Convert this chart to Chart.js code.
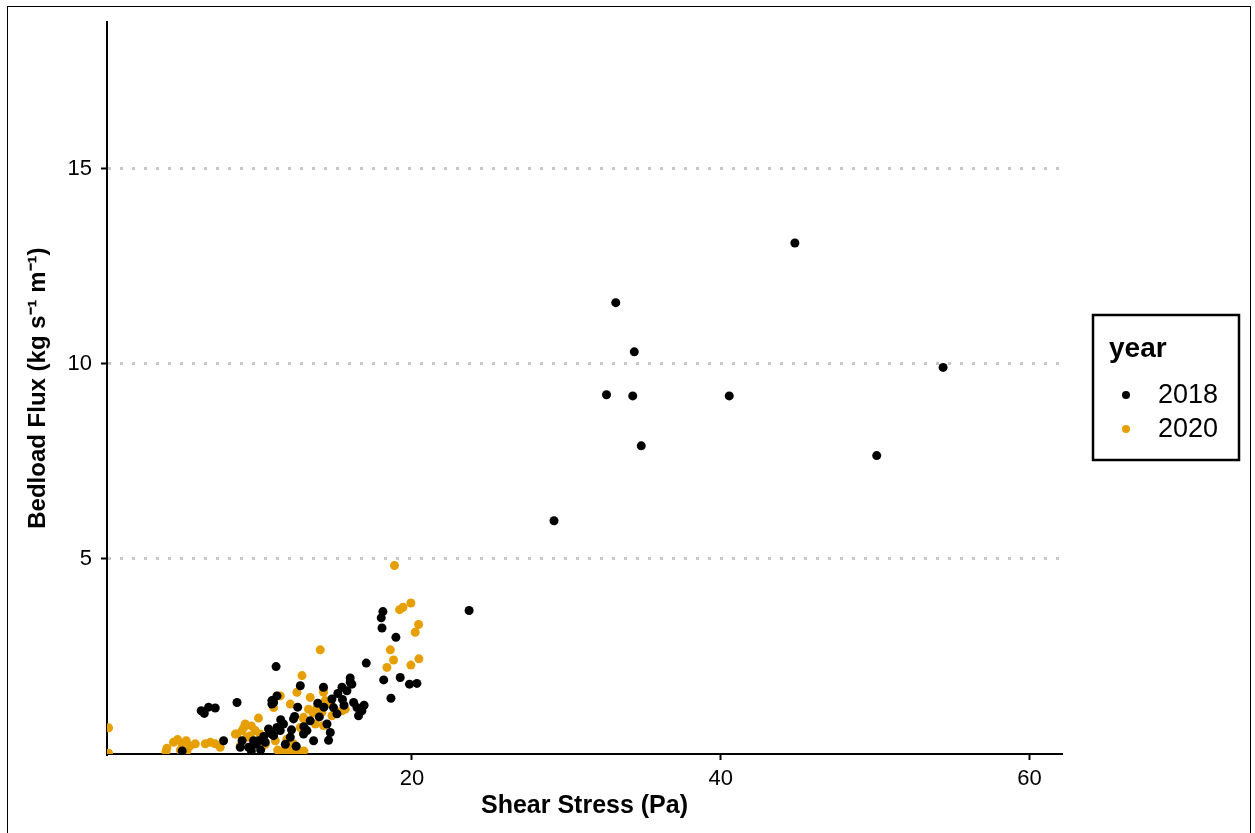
<!DOCTYPE html>
<html>
<head>
<meta charset="utf-8">
<script src="https://cdn.jsdelivr.net/npm/chart.js@4/dist/chart.umd.min.js"></script>
<style>
  html, body { margin: 0; padding: 0; background: #fff; }
  #wrap { width: 1255px; height: 833px; position: relative; }
</style>
</head>
<body>
<div id="wrap"><canvas id="fluxChart"></canvas></div>
<script>
// values
const shear2018 = [
  23.7, 29.2, 32.6, 33.2, 34.4, 34.3, 34.85, 40.55, 44.8, 50.1, 54.4,
  18.12, 18.01, 18.06, 18.96, 17.04, 18.17, 19.24, 19.84, 20.32, 18.64,
  11.2, 16.0, 16.11, 11.04, 11.26, 16.22, 12.33, 12.77, 14.27, 15.47, 16.0, 15.79,
  16.44, 16.76, 16.54, 14.82, 14.92, 15.14, 14.5, 14.71, 13.41, 12.4, 11.68, 11.47,
  11.04, 12.12, 12.98, 13.63, 10.93,
  6.35, 6.55, 6.83, 7.26, 8.67, 7.8, 5.12, 8.88, 9.42, 9.74, 10.06, 10.71, 10.9,
  10.5, 9.53, 9.0, 11.26, 10.93, 9.6, 12.5, 13.2, 14.0, 15.5, 13.9, 12.6, 10.2, 11.8,
  15.2, 15.6, 13.0, 12.2, 10.4, 9.9, 11.5, 14.3, 16.9, 14.6
];
const flux2018 = [
  3.68, 5.98, 9.21, 11.57, 10.31, 9.18, 7.90, 9.18, 13.1, 7.65, 9.91,
  3.65, 3.49, 3.23, 2.99, 2.33, 1.90, 1.96, 1.79, 1.81, 1.43,
  2.24, 1.95, 1.79, 1.32, 1.49, 1.32, 0.9, 1.75, 1.71, 1.71, 1.84, 1.62,
  1.19, 1.11, 0.98, 1.41, 1.19, 1.03, 0.77, 0.55, 0.85, 0.96, 0.77, 0.6,
  0.47, 0.43, 0.51, 0.34, 1.37,
  1.11, 1.04, 1.20, 1.18, 1.32, 0.34, 0.08, 0.17, 0.17, 0.34, 0.34, 0.64, 0.52,
  0.30, 0.17, 0.34, 0.68, 1.28, 0.08, 0.2, 0.6, 0.95, 1.4, 1.3, 1.2, 0.1, 0.25,
  1.55, 1.25, 0.7, 0.62, 0.45, 0.25, 0.88, 1.2, 1.25, 0.35
];
const shear2020 = [
  0.35, 0.35, 4.13, 4.07, 4.82, 4.56, 5.1, 5.38, 5.64, 5.97, 5.0, 5.43, 6.61, 6.94,
  7.26, 7.58, 9.2, 9.1, 8.67, 9.31, 9.85, 10.06, 11.04, 11.26, 11.15, 10.28, 8.88,
  8.56, 9.53, 10.17, 11.47, 12.55, 13.41, 14.27, 14.38, 13.85, 14.17, 12.98, 12.12,
  15.03, 15.47, 12.77, 12.98, 13.74, 14.27, 11.9, 12.12, 12.55, 12.33, 11.8, 14.06,
  12.88, 13.3, 14.27, 14.82, 15.68, 12.98, 18.87, 19.93, 19.42, 19.2, 20.43, 20.21,
  18.6, 18.81, 18.38, 20.45, 19.93, 11.6, 12.0, 12.8,
  9.0, 9.6, 10.5, 11.3, 12.4, 13.0, 13.6, 14.6
];
const flux2020 = [
  0.67, 0.02, 0.15, 0.06, 0.37, 0.30, 0.26, 0.34, 0.21, 0.26, 0.1, 0.08, 0.26, 0.30,
  0.26, 0.17, 0.77, 0.67, 0.51, 0.43, 0.6, 0.92, 1.19, 1.49, 0.34, 0.17, 0.21,
  0.51, 0.47, 0.51, 1.49, 1.58, 1.45, 1.58, 1.37, 1.19, 1.07, 0.94, 1.28,
  1.07, 1.11, 0.68, 0.55, 0.77, 0.73, 0.38, 0.17, 0.13, 0.26, 0.17, 2.67,
  2.01, 1.15, 1.67, 0.98, 1.15, 0.9, 4.83, 3.87, 3.76, 3.7, 3.32, 3.12,
  2.67, 2.41, 2.22, 2.44, 2.28, 0.05, 0.05, 0.05,
  0.6, 0.72, 0.25, 0.1, 0.05, 0.08, 1.05, 1.3
];
const years = ['2018', '2020'];
const yearColors = ['#000000', '#E69F00'];
const xTicks = [20, 40, 60];
const yTicks = [5, 10, 15];

const toPoints = (xs, ys) => xs.map((x, i) => ({ x, y: ys[i] }));

const FONT = 'Liberation Sans, Arial, Helvetica, sans-serif';

// ggplot-style legend box and outer frame
const legendBox = {
  id: 'legendBox',
  afterDraw(chart) {
    const ctx = chart.ctx;
    ctx.save();
    ctx.strokeStyle = '#000';
    ctx.lineWidth = 1;
    ctx.strokeRect(7.5, 6.5, 1243, 840);

    ctx.lineWidth = 2.5;
    ctx.strokeRect(1093, 315, 146, 145);
    ctx.fillStyle = '#000';
    ctx.font = 'bold 28px ' + FONT;
    ctx.textBaseline = 'alphabetic';
    ctx.textAlign = 'left';
    ctx.fillText('year', 1109, 357);
    ctx.font = '27px ' + FONT;
    ctx.textBaseline = 'middle';
    chart.data.datasets.forEach((ds, i) => {
      const y = 395 + i * 34;
      ctx.fillStyle = ds.backgroundColor;
      ctx.beginPath();
      ctx.arc(1126, y, 4, 0, Math.PI * 2);
      ctx.fill();
      ctx.fillStyle = '#000';
      ctx.fillText(ds.label, 1158, y + 1);
    });
    ctx.restore();
  }
};

new Chart(document.getElementById('fluxChart'), {
  type: 'scatter',
  data: {
    datasets: [
      {
        label: years[0],
        data: toPoints(shear2018, flux2018),
        backgroundColor: yearColors[0],
        borderWidth: 0,
        pointRadius: 4.5,
      },
      {
        label: years[1],
        data: toPoints(shear2020, flux2020),
        backgroundColor: yearColors[1],
        borderWidth: 0,
        pointRadius: 4.5,
      },
    ],
  },
  options: {
    responsive: true,
    maintainAspectRatio: false,
    animation: false,
    layout: {
      padding: { left: 0, top: 22, right: 193, bottom: 0 },
    },
    plugins: {
      legend: { display: false },
      tooltip: { enabled: false },
    },
    scales: {
      x: {
        type: 'linear',
        min: 0.25,
        max: 62.1,
        afterBuildTicks: scale => {
          scale.ticks = xTicks.map(value => ({ value }));
        },
        afterFit: scale => {
          scale.height = 79;
        },
        border: { color: '#000', width: 2 },
        grid: {
          drawOnChartArea: false,
          drawTicks: true,
          tickLength: 6,
          tickColor: '#000',
          tickWidth: 2,
        },
        ticks: {
          color: '#000',
          padding: 6,
          maxRotation: 0,
          font: { family: FONT, size: 22 },
        },
        title: {
          display: true,
          text: 'Shear Stress (Pa)',
          color: '#000',
          font: { family: FONT, size: 25, weight: 'bold' },
          padding: { top: 12, bottom: 12 },
        },
      },
      y: {
        type: 'linear',
        min: 0,
        max: 18.76,
        afterBuildTicks: scale => {
          scale.ticks = yTicks.map(value => ({ value }));
        },
        afterFit: scale => {
          scale.width = 107;
        },
        border: { color: '#000', width: 2, dash: [3, 9] },
        grid: {
          color: '#c8c8c8',
          lineWidth: 3,
          drawTicks: true,
          tickLength: 6,
          tickColor: '#000',
          tickWidth: 2,
          tickBorderDash: [],
        },
        ticks: {
          color: '#000',
          padding: 9,
          font: { family: FONT, size: 22 },
        },
        title: {
          display: true,
          text: 'Bedload Flux (kg s\u207B\u00B9 m\u207B\u00B9)',
          color: '#000',
          font: { family: FONT, size: 24, weight: 'bold' },
          padding: { top: 24, bottom: 24 },
        },
      },
    },
  },
  plugins: [legendBox],
});
</script>
</body>
</html>
